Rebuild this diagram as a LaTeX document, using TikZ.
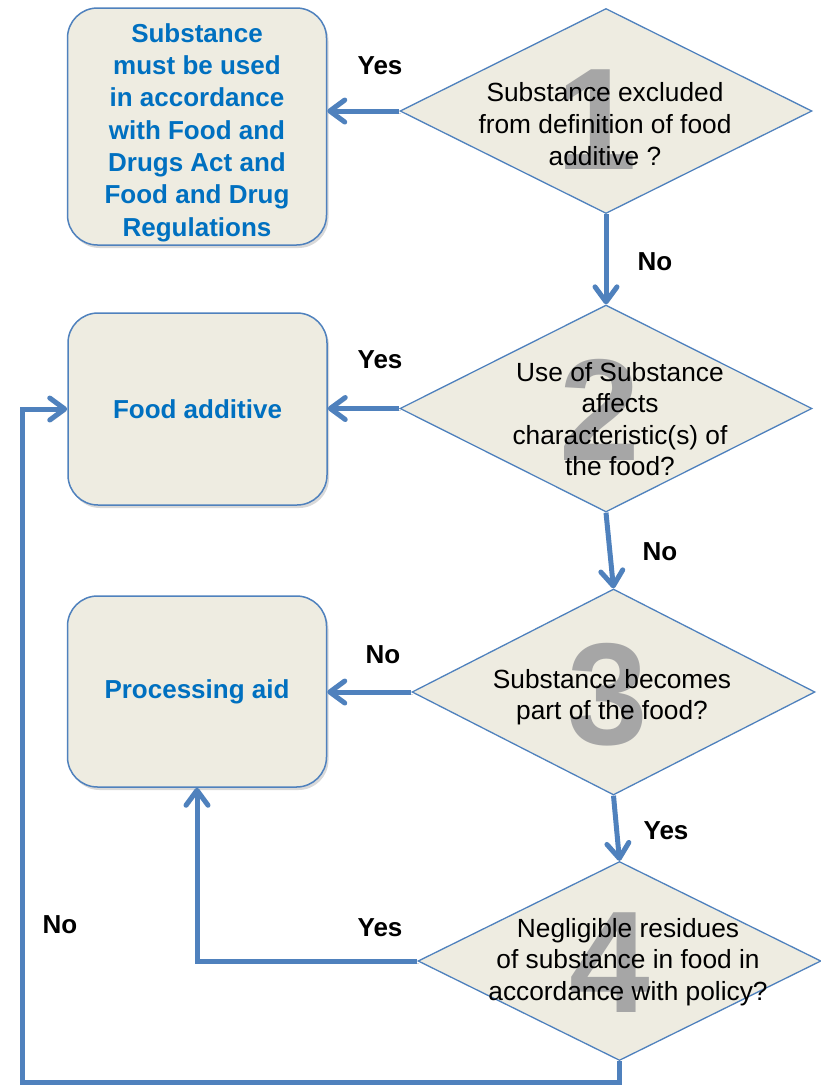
\documentclass[tikz,border=0pt]{standalone}
\usepackage{fontspec}
\setmainfont{Liberation Sans}
\usetikzlibrary{shapes.geometric,arrows.meta,shadows}
\definecolor{flowblue}{HTML}{4F81BD}
\definecolor{flowfill}{HTML}{EEECE1}
\definecolor{flowtext}{HTML}{0070C0}
\definecolor{flowdigit}{HTML}{A6A6A6}
\tikzset{flow/.style={draw=flowblue,line width=5pt,-{Straight Barb[length=15pt,width=22pt,round]},
    preaction={draw=black,opacity=0.15,transform canvas={shift={(1.5pt,-2pt)}}}}}

\begin{document}
\begin{tikzpicture}[x=1pt,y=-1pt]
      \useasboundingbox (0,0) rectangle (821,1085);

      \begin{scope}[every node/.style={draw=flowblue,fill=flowfill,line width=1.5pt,rounded corners=30pt,
          minimum width=259pt,align=center,text=flowtext,font=\fontsize{26}{32.3}\selectfont\bfseries,
          drop shadow={opacity=0.3,shadow xshift=2pt,shadow yshift=-3pt}}]
        \node[minimum height=237pt] (r1) at (197,126.5) {\rule{0pt}{31pt}Substance\\must be used\\in accordance\\with Food and\\Drugs Act and\\Food and Drug\\Regulations};
        \node[minimum height=192pt] (r2) at (197.5,409) {Food additive};
        \node[minimum height=191pt] (r3) at (197,691.5) {Processing aid};
      \end{scope}

      \begin{scope}[every node/.style={diamond,draw=flowblue,fill=flowfill,line width=1.3pt,inner sep=0pt}]
        \node[minimum width=412pt,minimum height=205pt] (q1) at (606,111) {};
        \node[minimum width=412pt,minimum height=207pt] (q2) at (606,408.5) {};
        \node[minimum width=403pt,minimum height=206pt] (q3) at (613.5,692) {};
        \node[minimum width=403pt,minimum height=199pt] (q4) at (619.5,961) {};
      \end{scope}

      \begin{scope}[every node/.style={text=flowdigit,font=\fontsize{145}{145}\selectfont\bfseries}]
        \node (n1) at (597,120) {1};
        \node (n2) at (600,410) {2};
        \node (n3) at (608,695) {3};
        \node (n4) at (610,963) {4};
      \end{scope}

      \begin{scope}[every node/.style={align=center,font=\fontsize{26.3}{31.6}\selectfont}]
        \node (t1) at (605,124) {Substance excluded\\from definition of food\\additive ?};
        \node (t2) at (620,419) {Use of Substance\\affects\\characteristic(s) of\\the food?};
        \node (t3) at (612,697) {Substance becomes\\part of the food?};
        \node (t4) at (628,962) {Negligible residues\\of substance in food in\\accordance with policy?};
      \end{scope}

      \coordinate (c1) at (22,1082);
      \draw[flow] (q1.west) -- (q1.west -| r1.east);
      \draw[flow] (q1.south) -- (q2.north);
      \draw[flow] (q2.west) -- (q2.west -| r2.east);
      \draw[flow] (q2.south) -- (q3.north);
      \draw[flow] (q3.west) -- (q3.west -| r3.east);
      \draw[flow] (q3.south) -- (q4.north);
      \draw[flow] (q4.west) -| (r3.south);
      \draw[flow] (q4.south) |- (c1) |- (r2.west);

      \begin{scope}[every node/.style={font=\fontsize{26}{30}\selectfont\bfseries}]
        \node (y1) at (380,66) {Yes};
        \node (o1) at (655,262) {No};
        \node (y2) at (380,360) {Yes};
        \node (o2) at (660,552) {No};
        \node (o3) at (383,655) {No};
        \node (y3) at (666,831) {Yes};
        \node (y4) at (380,928) {Yes};
        \node (o4) at (60,925) {No};
      \end{scope}

    \end{tikzpicture}
\end{document}
